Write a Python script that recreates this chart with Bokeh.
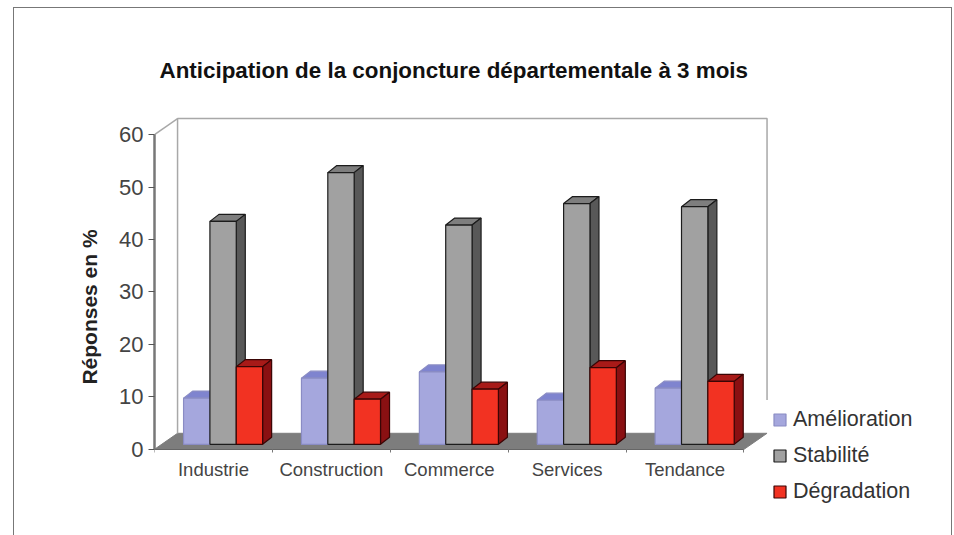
from bokeh.plotting import figure
from bokeh.models import Range1d, FixedTicker, Legend, LegendItem
from bokeh.embed import file_html
from bokeh.resources import INLINE

categories = ["Industrie", "Construction", "Commerce", "Services", "Tendance"]
amelioration = [8.8, 12.6, 13.8, 8.4, 10.7]
stabilite = [42.5, 51.8, 41.8, 45.9, 45.3]
degradation = [14.8, 8.6, 10.5, 14.6, 12.0]
y_ticks = [0, 10, 20, 30, 40, 50, 60]
TITLE = "Anticipation de la conjoncture départementale à 3 mois"
YLABEL = "Réponses en %"

FONT = "Liberation Sans"
PX_X = 117.6
PX_Y = 5.233
OX, OY = 13, 7            # where the figure starts on the page
W, H = 937, 528
LEFT, RIGHT_PX, TOP, BOTTOM, ZERO = 153 - OX, 943 - OX, 85 - OY, 525 - OY, 447 - OY

p = figure(width=W, height=H, output_backend="svg", toolbar_location=None,
           x_range=Range1d(0, (RIGHT_PX - LEFT) / PX_X),
           y_range=Range1d((ZERO - BOTTOM) / PX_Y, (ZERO - TOP) / PX_Y),
           min_border_left=LEFT, min_border_right=W - RIGHT_PX,
           min_border_top=TOP, min_border_bottom=H - BOTTOM,
           background_fill_color="white", border_fill_color="white")
p.grid.visible = False
p.outline_line_color = None
p.styles = {"margin-left": f"{OX}px", "margin-top": f"{OY}px", "box-sizing": "content-box",
            "border-left": "1px solid #777777", "border-top": "1px solid #777777",
            "border-right": "1px solid #777777"}

dx, dy = 23 / PX_X, 16 / PX_Y           # depth of the floor
wall = "#a8a8a8"
p.patch([0, 5, 5 + dx, dx], [0, 0, dy, dy], fill_color="#7d7d7d", line_color="#7d7d7d")
p.line([dx, dx, 5 + dx, 5 + dx], [dy, 60 + dy, 60 + dy, 9.4], line_color=wall, line_width=1.5)
p.line([0, dx], [60, 60 + dy], line_color=wall, line_width=1.5)

start, bw, base = 0.2465, 0.2235, 0.96
ddx, ddy = 9 / PX_X, 7 / PX_Y           # depth of the bars
series = [
    ("Amélioration", amelioration, 0, "#a5a7dd", "#7f84cf", "#6f71ad", "#8a8cc4"),
    ("Stabilité", stabilite, 1, "#a1a1a1", "#7e7e7e", "#585858", "#1c1c1c"),
    ("Dégradation", degradation, 2, "#f23222", "#a81a18", "#8a1012", "#3a0505"),
]
items = []
for name, vals, k, front, top, side, edge in series:
    x0 = [i + start + k * bw for i in range(len(vals))]
    x1 = [x + bw for x in x0]
    yt = [base + v for v in vals]
    p.patches([[a, a + ddx, b + ddx, b] for a, b in zip(x0, x1)],
              [[t, t + ddy, t + ddy, t] for t in yt],
              fill_color=top, line_color=edge, line_width=1.2)
    p.patches([[b, b + ddx, b + ddx, b] for b in x1],
              [[base, base + ddy, t + ddy, t] for t in yt],
              fill_color=side, line_color=edge, line_width=1.2)
    r = p.quad(left=x0, right=x1, bottom=[base] * len(vals), top=yt,
               fill_color=front, line_color=edge, line_width=1.2)
    items.append(LegendItem(label=name, renderers=[r]))

legend = Legend(items=items, location=(618, 23), orientation="vertical",
                background_fill_alpha=0, border_line_color=None,
                label_text_font=FONT, label_text_font_size="21.5px", label_text_color="#333333",
                glyph_width=15, glyph_height=15, label_standoff=6, spacing=11,
                label_height=25, margin=0, padding=0)
p.add_layout(legend)

ya = p.yaxis[0]
ya.ticker = FixedTicker(ticks=y_ticks)
ya.bounds = (0, 60)
ya.axis_label = YLABEL
ya.axis_label_text_font = FONT
ya.axis_label_text_font_size = "21px"
ya.axis_label_text_font_style = "bold"
ya.axis_label_text_color = "#222222"
ya.axis_label_standoff = 15
ya.major_label_text_font = FONT
ya.major_label_text_font_size = "22px"
ya.major_label_text_color = "#444444"
ya.axis_line_color = "#777777"
ya.axis_line_width = 2.5
ya.major_tick_line_color = "#555555"
ya.major_tick_out = 6
ya.major_tick_in = 0
ya.minor_tick_out = 0
ya.minor_tick_in = 0

xa = p.xaxis[0]
mids = [i + 0.5 for i in range(len(categories))]
xa.ticker = FixedTicker(ticks=mids, minor_ticks=list(range(len(categories) + 1)))
xa.major_label_overrides = dict(zip(mids, categories))
xa.bounds = (0, 5)
xa.fixed_location = 0
xa.major_label_text_font = FONT
xa.major_label_text_font_size = "18.5px"
xa.major_label_text_color = "#444444"
xa.major_label_standoff = 4
xa.axis_line_color = "#666666"
xa.axis_line_width = 1
xa.major_tick_line_color = None
xa.minor_tick_line_color = "#777777"
xa.minor_tick_out = 3
xa.minor_tick_in = 0

p.title.text = TITLE
p.title.text_font = FONT
p.title.text_font_size = "22.4px"
p.title.text_font_style = "bold"
p.title.text_color = "#111111"
p.title.align = "left"
p.title.offset = 5
p.title.standoff = 8

open("out.html", "w").write(file_html(p, INLINE))
